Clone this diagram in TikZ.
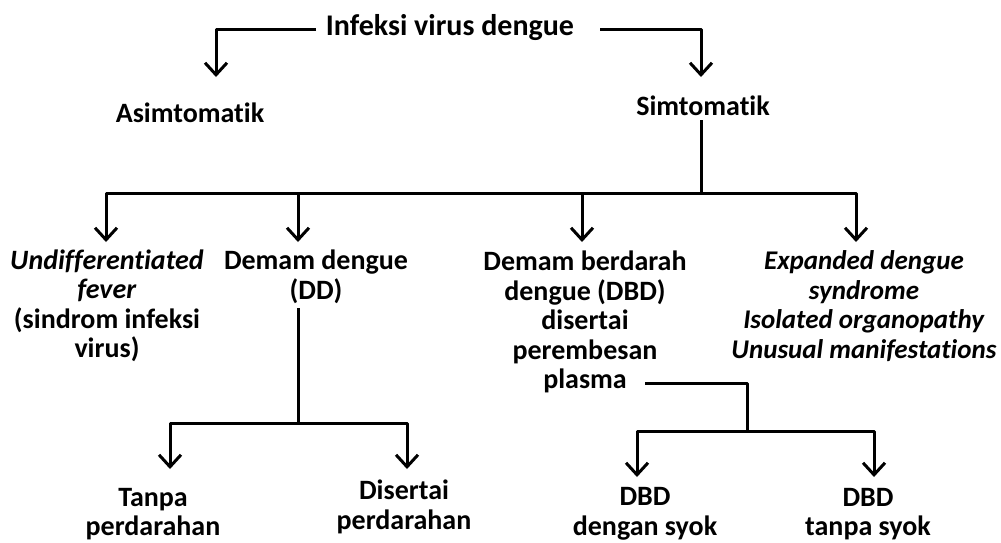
\documentclass[tikz,border=0pt]{standalone}
\usepackage{fontspec}
\setmainfont{Carlito}[Ligatures=NoCommon]
\usetikzlibrary{arrows.meta}
\begin{document}
\begin{tikzpicture}[x=0.5pt,y=-0.5pt,
  lbl/.style={font=\fontsize{14}{14.75}\selectfont\bfseries, align=center, inner sep=2pt},
  ln/.style={line width=1.5pt, line join=round},
  arr/.style={ln, -{Straight Barb[length=6pt,width=11pt]}}]
\useasboundingbox (0,0) rectangle (1001,542);
% nodes
\node[lbl, font=\fontsize{15}{16}\selectfont\bfseries] (inf) at (450,28) {Infeksi virus dengue};
\node[lbl] (asim) at (190,113) {Asimtomatik};
\node[lbl] (simt) at (703,106) {Simtomatik};
\node[lbl] (undif) at (107,306) {\textit{Undifferentiated}\\\textit{fever}\\(sindrom infeksi\\virus)};
\node[lbl] (dd) at (316,277) {Demam dengue\\(DD)};
\node[lbl] (dbd) at (585,322) {Demam berdarah\\dengue (DBD)\\disertai\\perembesan\\plasma};
\node[lbl, font=\fontsize{13.5}{14.75}\selectfont\bfseries] (exp) at (864,306) {\textit{Expanded dengue}\\\textit{syndrome}\\\textit{Isolated organopathy}\\\textit{Unusual manifestations}};
\node[lbl] (tanpa) at (153,514) {Tanpa\\perdarahan};
\node[lbl] (dis) at (404,507) {Disertai\\perdarahan};
\node[lbl] (dsy) at (645,514) {DBD\\dengan syok};
\node[lbl] (tsy) at (868,514) {DBD\\tanpa syok};
% coordinates
\coordinate (lA) at (316,29);
\coordinate (lS) at (600,29);
\coordinate (tA) at (216,77);
\coordinate (tS) at (701,77);
\coordinate (j1) at (701,193);
\coordinate (t1) at (106,242);
\coordinate (t2) at (298,242);
\coordinate (t3) at (582,242);
\coordinate (t4) at (856,242);
\coordinate (j2) at (298,423);
\coordinate (t5) at (170,469);
\coordinate (t6) at (407,469);
\coordinate (p0) at (645,383);
\coordinate (j3) at (747,431);
\coordinate (t7) at (637,477);
\coordinate (t8) at (874,477);
% connectors
\draw[arr] (lA) -| (tA);
\draw[arr] (lS) -| (tS);
\draw[ln] (simt.south -| j1) -- (j1);
\draw[arr] (j1) -| (t1);
\draw[arr] (j1) -| (t4);
\draw[arr] (t2 |- j1) -- (t2);
\draw[arr] (t3 |- j1) -- (t3);
\draw[ln] (dd.south -| j2) -- (j2);
\draw[arr] (j2) -| (t5);
\draw[arr] (j2) -| (t6);
\draw[ln] (p0) -| (j3);
\draw[arr] (j3) -| (t7);
\draw[arr] (j3) -| (t8);
\end{tikzpicture}
\end{document}
